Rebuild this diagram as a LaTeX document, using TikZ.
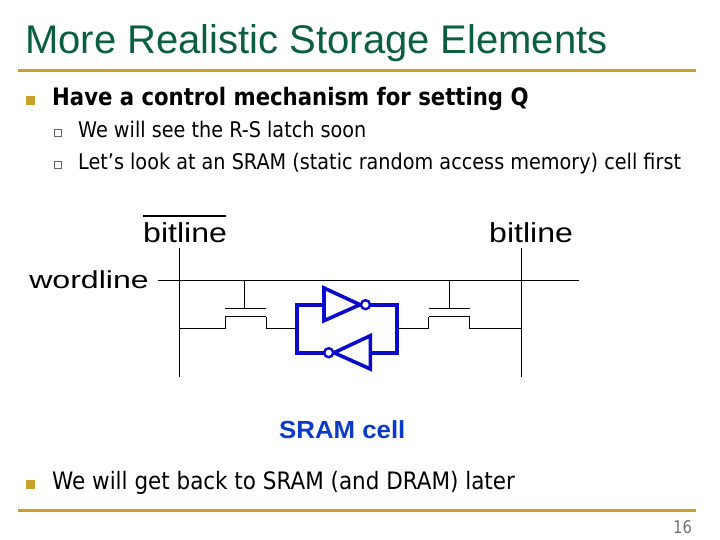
\documentclass[tikz,border=0pt]{standalone}
\usepackage{fontspec}
\setmainfont{DejaVu Sans}
\newfontfamily\arialfont{Liberation Sans}
\usepackage{xcolor}
\definecolor{titlegreen}{HTML}{0B5F3F}
\definecolor{rulegold}{HTML}{C8A02C}
\definecolor{cellblue}{HTML}{0A0ACC}
\definecolor{labelblue}{HTML}{0B3AC8}
\definecolor{subgreen}{HTML}{55705A}
\tikzset{
  wire/.style={draw=black,line width=0.9pt},
  cellwire/.style={draw=cellblue,line width=3.6pt},
  bubble/.style={draw=cellblue,line width=2.4pt,circle,inner sep=0pt,minimum size=9pt,fill=white},
  pin/.style={inner sep=0pt,minimum size=0pt},
  subtext/.style={anchor=base west,inner sep=0pt,font=\fontsize{21.6}{24}\selectfont,xscale=0.89},
  toptext/.style={anchor=base west,inner sep=0pt,font=\fontsize{24}{26}\selectfont,xscale=0.895},
  boldtext/.style={anchor=base west,inner sep=0pt,font=\bfseries\fontsize{24}{26}\selectfont,xscale=0.884},
  imglabel/.style={anchor=base west,inner sep=0pt,font=\arialfont\fontsize{27.4}{30}\selectfont,xscale=1.17},
  goldrule/.style={draw=rulegold,line width=3pt},
  bigbullet/.style={fill=rulegold,minimum size=9pt,inner sep=0pt},
  subbullet/.style={draw=subgreen,fill=white,line width=1.2pt,minimum size=7pt,inner sep=0pt}
}
\begin{document}
\begin{tikzpicture}[x=1pt,y=-1pt]
\useasboundingbox (0,0) rectangle (720,540);
% slide frame
\draw (25,54) node[anchor=base west,inner sep=0pt,font=\arialfont\fontsize{40}{42}\selectfont,text=titlegreen](title) {More Realistic Storage Elements};
\draw (18,70.5) node[pin](toprulea) {};
\draw (696,70.5) node[pin](topruleb) {};
\draw[goldrule] (toprulea) -- (topruleb);
\draw (18,510.5) node[pin](botrulea) {};
\draw (696,510.5) node[pin](botruleb) {};
\draw[goldrule] (botrulea) -- (botruleb);
\draw (30.5,100.5) node[bigbullet](bulletone) {};
\draw (30.5,484) node[bigbullet](bullettwo) {};
\draw (58,133) node[subbullet](subone) {};
\draw (58,165) node[subbullet](subtwo) {};
\draw (52,106) node[boldtext](lineone) {Have a control mechanism for setting Q};
\draw (78,138) node[subtext](linetwo) {We will see the R-S latch soon};
\draw (78,170) node[subtext](linethree) {Let’s look at an SRAM (static random access memory) cell first};
\draw (52,489) node[toptext](linefour) {We will get back to SRAM (and DRAM) later};
\draw (673,533) node[anchor=base west,inner sep=0pt,font=\fontsize{17.5}{19}\selectfont,text=black!55,xscale=0.85](pagenum) {16};
% labels
\draw (143,242.5) node[imglabel](bitbar) {bitline};
\draw (489,242.5) node[imglabel](bit) {bitline};
\draw (29,288.3) node[anchor=base west,inner sep=0pt,font=\arialfont\fontsize{24.5}{27}\selectfont,xscale=1.31](word) {wordline};
\draw (279,438.5) node[anchor=base west,inner sep=0pt,font=\arialfont\bfseries\fontsize{24.7}{27}\selectfont,text=labelblue,xscale=1.045](cell) {SRAM cell};
\draw (143,216) node[pin](barl) {};
\draw (226,216) node[pin](barr) {};
\draw[line width=2pt] (barl) -- (barr);
% lines
\draw (158,280) node[pin](wl) {};
\draw (579,280) node[pin](wr) {};
\draw (179.3,248) node[pin](blt) {};
\draw (179.3,377) node[pin](blb) {};
\draw (521.3,248) node[pin](brt) {};
\draw (521.3,377) node[pin](brb) {};
\draw[wire] (wl) -- (wr);
\draw[wire] (blt) -- (blb);
\draw[wire] (brt) -- (brb);
% left transistor
\draw (244.3,280) node[pin](gla) {};
\draw (244.3,308) node[pin](glb) {};
\draw (225,308) node[pin](pla) {};
\draw (266,308) node[pin](plb) {};
\draw (179.3,328) node[pin](cla) {};
\draw (225,316.5) node[pin](clb) {};
\draw (266,316.5) node[pin](clc) {};
\draw (297,328) node[pin](cld) {};
\draw[wire] (gla) -- (glb);
\draw[wire] (pla) -- (plb);
\draw[wire] (cla) -| (clb) -- (clc) |- (cld);
% right transistor
\draw (449,280) node[pin](gra) {};
\draw (449,308) node[pin](grb) {};
\draw (428.3,308) node[pin](pra) {};
\draw (469.7,308) node[pin](prb) {};
\draw (397,328) node[pin](cra) {};
\draw (428.3,316.5) node[pin](crb) {};
\draw (469.7,316.5) node[pin](crc) {};
\draw (521.3,328) node[pin](crd) {};
\draw[wire] (gra) -- (grb);
\draw[wire] (pra) -- (prb);
\draw[wire] (cra) -| (crb) -- (crc) |- (crd);
% inverters
\draw (324,288) node[pin](upa) {};
\draw (324,320.7) node[pin](upb) {};
\draw (360,304.7) node[pin](upc) {};
\draw (324,304.7) node[pin](upin) {};
\draw (370.3,335.7) node[pin](loa) {};
\draw (370.3,369) node[pin](lob) {};
\draw (334,352.7) node[pin](loc) {};
\draw (370.3,352.7) node[pin](loin) {};
\draw (297,304.7) node[pin](boxa) {};
\draw (397,304.7) node[pin](boxb) {};
\draw (397,352.7) node[pin](boxc) {};
\draw (297,352.7) node[pin](boxd) {};
\draw[cellwire] (upa.center) -- (upb.center) -- (upc.center) -- cycle;
\draw[cellwire] (loa.center) -- (lob.center) -- (loc.center) -- cycle;
\draw[cellwire] (upc.center) -- (boxb.center) -- (boxc.center) -- (loin.center);
\draw[cellwire] (loc.center) -- (boxd.center) -- (boxa.center) -- (upin.center);
\draw (365.5,304.7) node[bubble](upbub) {};
\draw (328.7,352.7) node[bubble](lobub) {};
\end{tikzpicture}
\end{document}
